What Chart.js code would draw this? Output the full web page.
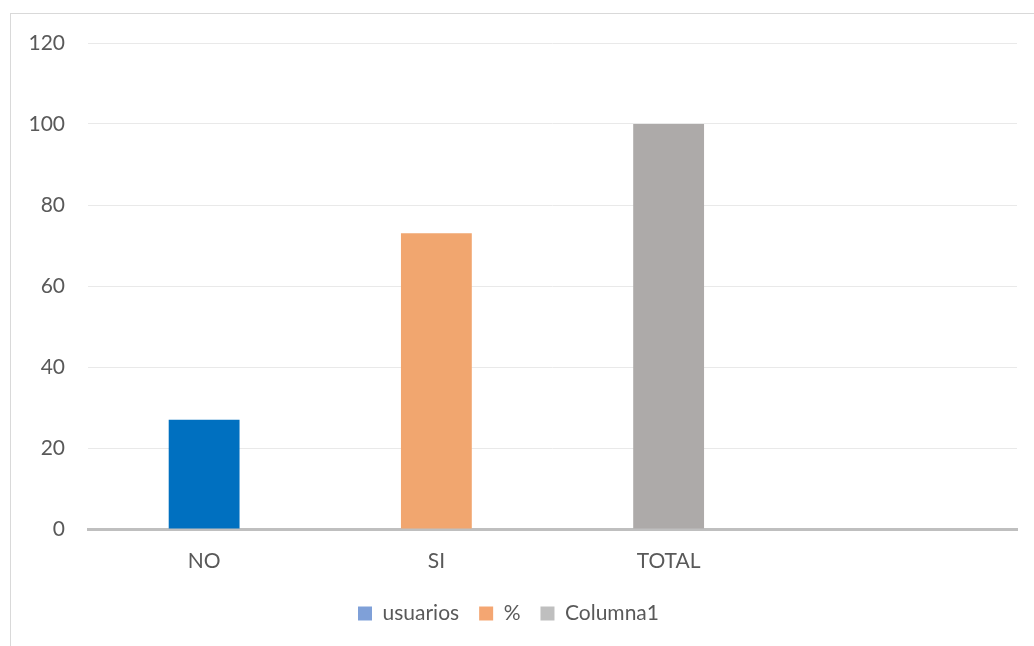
<!DOCTYPE html>
<html>
<head>
<meta charset="utf-8">
<script src="https://cdn.jsdelivr.net/npm/chart.js@4/dist/chart.umd.min.js"></script>
<style>
  html, body { margin: 0; padding: 0; background: #fff; }
  #wrap { position: relative; width: 1034px; height: 646px; overflow: hidden; }
  #frame { position: absolute; left: 10px; top: 13px; width: 1040px; height: 660px; border: 1px solid #d9d9d9; box-sizing: border-box; }
  #myChart { position: absolute; left: 0; top: 0; }
</style>
</head>
<body>
<div id="wrap">
  <div id="frame"></div>
  <canvas id="myChart" width="1034" height="646"></canvas>
</div>
<script>
var categories = ["NO", "SI", "TOTAL", ""];
var usuarios = [27, null, null, null];
var porcentaje = [null, 73, null, null];
var columna1 = [null, null, 100, null];
var yTicks = [0, 20, 40, 60, 80, 100, 120];

var barColors = ["#0070c0", "#f1a66f", "#adaaa9"];
var legendColors = ["#7fa0d8", "#f4a672", "#bfbfbf"];

var ctx = document.getElementById("myChart").getContext("2d");

var graphData = {
  type: "bar",
  data: {
    labels: categories,
    datasets: [
      { label: "usuarios", data: usuarios, backgroundColor: barColors[0] },
      { label: "%", data: porcentaje, backgroundColor: barColors[1] },
      { label: "Columna1", data: columna1, backgroundColor: barColors[2] },
    ],
  },
  options: {
    responsive: false,
    animation: false,
    grouped: false,
    categoryPercentage: 1,
    barPercentage: 0.305,
    layout: { padding: { left: 0, right: 17, top: 43, bottom: 12 } },
    plugins: {
      tooltip: { enabled: false },
      legend: {
        position: "bottom",
        labels: {
          color: "#595959",
          font: { family: "Lato", size: 21 },
          boxWidth: 14,
          boxHeight: 14,
          padding: 20,
          generateLabels: function (chart) {
            return chart.data.datasets.map(function (ds, i) {
              return {
                text: ds.label,
                fillStyle: legendColors[i],
                strokeStyle: legendColors[i],
                lineWidth: 0,
                fontColor: "#595959",
                datasetIndex: i,
              };
            });
          },
        },
      },
    },
    scales: {
      x: {
        grid: { display: false, drawTicks: false },
        border: { color: "#bfbfbf", width: 3 },
        ticks: { color: "#595959", font: { family: "Lato", size: 21 }, padding: 20 },
        afterFit: function (scale) { scale.height = 54; },
      },
      y: {
        min: 0,
        max: 120,
        afterBuildTicks: function (scale) {
          scale.ticks = yTicks.map(function (v) { return { value: v }; });
        },
        grid: {
          drawTicks: false,
          color: function (c) { return c.tick && c.tick.value === 0 ? "rgba(0,0,0,0)" : "#e9e9e9"; },
          lineWidth: 1,
        },
        border: { display: false },
        ticks: { color: "#595959", font: { family: "Lato", size: 21 }, padding: 23 },
        afterFit: function (scale) { scale.width = 88; },
      },
    },
  },
};
var myChart = new Chart(ctx, graphData);
</script>
</body>
</html>
